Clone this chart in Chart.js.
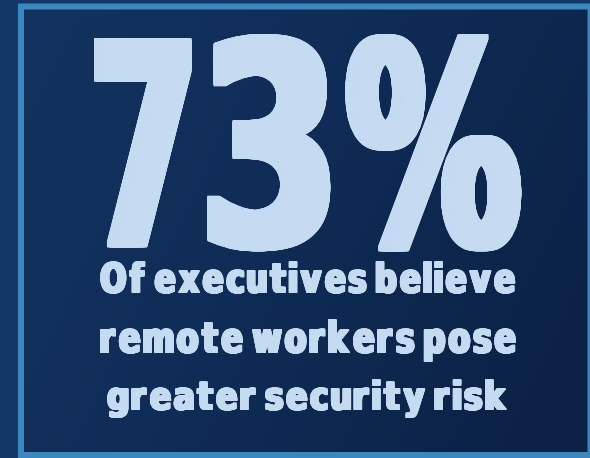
<!DOCTYPE html>
<html>
<head>
<meta charset="utf-8">
<script src="https://cdn.jsdelivr.net/npm/chart.js@4/dist/chart.umd.min.js"></script>
<style>
html,body{margin:0;padding:0;background:#133767;}
#wrap{width:590px;height:458px;}
canvas{display:block;}
</style>
</head>
<body>
<div id="wrap"><canvas id="c" width="590" height="458"></canvas></div>
<script>
// Data
const statValue = [73];
const statSuffix = ["%"];
const captionLines = ["Of executives believe", "remote workers pose", "greater security risk"];

// Layout boxes (left, top, right, bottom) and glyph styling
const statBox = [93, 32, 523, 250];
const statStyle = { gap: 14, space: 0, dx: 12, dy: 5, widths: [99, 125, 178] };
const captionBoxes = [[100, 261, 515, 294], [100, 320, 516, 362], [107, 379, 507, 419]];
const captionStyle = { gap: 2.5, space: 9, dx: 3, dy: 1 };

const textColor = '#c4dbf2';
const FONT = 'bold 100px "DejaVu Sans", "Liberation Sans", sans-serif';

function fitText(ctx, text, box, st) {
  ctx.save();
  ctx.font = FONT;
  ctx.textBaseline = 'alphabetic';
  ctx.textAlign = 'left';
  const chars = [...text];
  const glyphs = [];
  let inkSum = 0, asc = 0, desc = 0, nG = 0, nS = 0;
  chars.forEach(c => {
    if (c === ' ') { glyphs.push({ space: true }); nS++; return; }
    const m = ctx.measureText(c);
    const w = m.actualBoundingBoxLeft + m.actualBoundingBoxRight;
    glyphs.push({ c, l: m.actualBoundingBoxLeft, w });
    inkSum += w; nG++;
    asc = Math.max(asc, m.actualBoundingBoxAscent);
    desc = Math.max(desc, m.actualBoundingBoxDescent);
  });
  let nGaps = 0;
  for (let i = 1; i < glyphs.length; i++) if (!glyphs[i].space && !glyphs[i - 1].space) nGaps++;
  const bw = box[2] - box[0], bh = box[3] - box[1];
  const sxAll = (bw - nGaps * st.gap - nS * st.space - nG * st.dx) / inkSum;
  const sy = (bh - st.dy) / (asc + desc);
  const baseY = box[1] + asc * sy;
  ctx.fillStyle = textColor;
  let x = box[0];
  let gi = 0;
  glyphs.forEach((g, i) => {
    if (g.space) { x += st.space; return; }
    if (i > 0 && !glyphs[i - 1].space) x += st.gap;
    const sx = st.widths ? (st.widths[gi] - st.dx) / g.w : sxAll;
    gi++;
    const steps = Math.max(1, Math.ceil(st.dx * 2));
    const vsteps = Math.max(1, Math.ceil(st.dy * 2));
    for (let k = 0; k <= steps; k++) {
      for (let j = 0; j <= vsteps; j++) {
        ctx.save();
        ctx.translate(x + st.dx * k / steps, baseY + st.dy * j / vsteps);
        ctx.scale(sx, sy);
        ctx.fillText(g.c, g.l, 0);
        ctx.restore();
      }
    }
    x += g.w * sx + st.dx;
  });
  ctx.restore();
}

const infoPlugin = {
  id: 'info',
  beforeDraw(chart) {
    const ctx = chart.ctx;
    const W = chart.width, H = chart.height;
    ctx.save();
    ctx.fillStyle = '#133767';
    ctx.fillRect(0, 0, W, H);
    const g = ctx.createLinearGradient(20, 0, W, H * 0.6);
    g.addColorStop(0, '#12335f');
    g.addColorStop(0.5, '#0f2c56');
    g.addColorStop(1, '#0b2246');
    ctx.fillStyle = g;
    ctx.fillRect(21, 7, W - 21, H - 7);
    ctx.strokeStyle = '#3d87bf';
    ctx.lineWidth = 6;
    ctx.strokeRect(21, 6.5, W - 20.5, H - 9.5);
    ctx.restore();
  },
  afterDraw(chart) {
    const ctx = chart.ctx;
    fitText(ctx, String(statValue[0]) + statSuffix[0], statBox, statStyle);
    captionLines.forEach((t, i) => fitText(ctx, t, captionBoxes[i], captionStyle));
  }
};

new Chart(document.getElementById('c'), {
  type: 'bar',
  data: { labels: [], datasets: [{ data: [] }] },
  options: {
    responsive: false,
    animation: false,
    events: [],
    plugins: { legend: { display: false }, tooltip: { enabled: false } },
    scales: { x: { display: false }, y: { display: false } },
    layout: { padding: 0 }
  },
  plugins: [infoPlugin]
});
</script>
</body>
</html>
